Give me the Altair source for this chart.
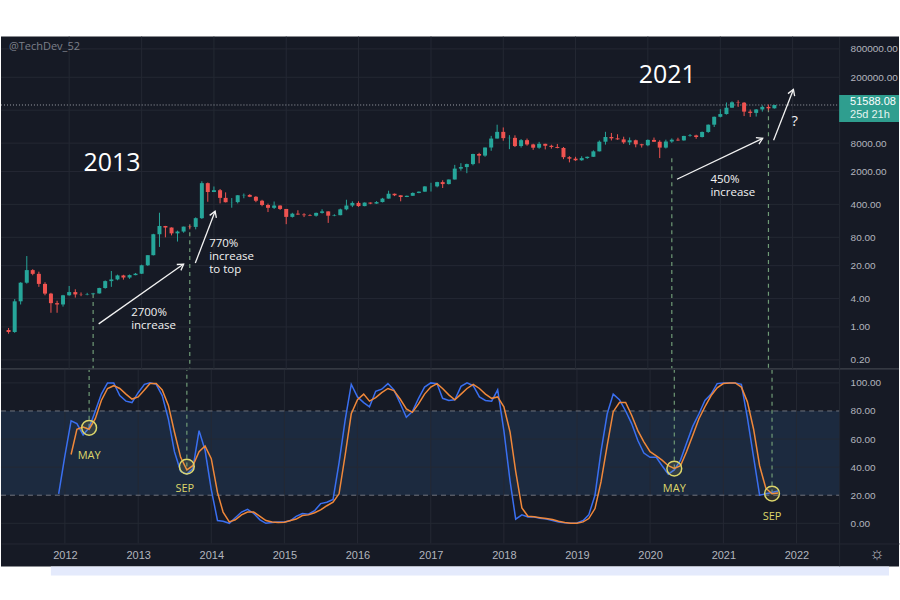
import altair as alt
import pandas as pd

# ---------------- monthly BTCUSD candles, Mar 2011 .. Oct 2021 ----------------
CANDLE_START = "2011-03-01"
opens = [
    0.86, 0.78, 3.5, 8.7, 16.1, 13.4, 8.2, 5.1, 3.2, 3.0,
    4.7, 5.5, 4.9, 4.85, 4.95, 5.15, 6.7, 9.4, 10.2, 12.4, 11.2, 12.6,
    13.5, 20.4, 33.4, 93, 139, 129, 97, 106, 135, 133, 204, 1130,
    732, 800, 550, 445, 447, 625, 635, 580, 478, 388, 338, 378,
    320, 217, 254, 244, 236, 230, 264, 284, 230, 236, 314, 378,
    430, 368, 437, 416, 448, 531, 673, 624, 574, 609, 700, 745,
    963, 965, 1190, 1080, 1350, 2300, 2480, 2870, 4700, 4340, 6450, 10000,
    13860, 10200, 10330, 6930, 9240, 7500, 6390, 7730, 7020, 6630, 6320, 4020,
    3740, 3460, 3850, 4100, 5350, 8570, 10800, 10100, 9600, 8300, 9200, 7550,
    7200, 9350, 8540, 6420, 8650, 9450, 9140, 11350, 11650, 10780, 13800, 19700,
    28990, 33110, 45140, 58800, 57750, 37300, 35040, 41460, 47100, 43800,
]
highs = [
    0.95, 3.9, 8.9, 32, 16.8, 14.9, 8.9, 5.3, 3.6, 4.8,
    7.4, 6.3, 5.4, 5.3, 5.3, 6.8, 9.7, 15.4, 12.9, 12.8, 13.0, 14.0,
    21, 33.5, 95, 266, 140, 130, 111, 135, 142, 212, 1240, 1165,
    960, 850, 720, 545, 630, 680, 660, 600, 500, 415, 460, 382,
    320, 265, 300, 260, 247, 268, 315, 285, 247, 325, 502, 465,
    465, 440, 440, 468, 550, 780, 680, 625, 615, 718, 752, 975,
    1150, 1210, 1300, 1350, 2760, 3000, 2930, 4760, 4980, 6470, 11400, 19666,
    17200, 11800, 11700, 9770, 9990, 7760, 8500, 7760, 7400, 7680, 6620, 4230,
    4100, 4200, 4150, 5620, 9100, 13900, 13150, 12330, 10950, 10540, 9500, 7740,
    9580, 10500, 9190, 9460, 10080, 10400, 11450, 12480, 12070, 14100, 19900, 29300,
    41970, 58350, 61800, 64900, 59600, 41300, 42300, 50500, 52900, 51900,
]
lows = [
    0.72, 0.75, 3.0, 8.3, 12.5, 7.1, 4.7, 2.0, 2.0, 2.7,
    4.6, 4.2, 4.5, 4.7, 4.9, 5.1, 6.5, 7.1, 9.8, 10.1, 10.5, 12.5,
    13.3, 19.7, 33, 50, 80, 88, 65, 100, 118, 118, 196, 455,
    730, 420, 440, 340, 420, 540, 570, 445, 365, 275, 320, 305,
    152, 210, 240, 215, 226, 220, 255, 162, 224, 235, 300, 350,
    355, 365, 404, 412, 440, 530, 600, 465, 570, 605, 690, 740,
    750, 920, 890, 1060, 1350, 2080, 1840, 2700, 2980, 4100, 5500, 10000,
    9000, 5950, 6600, 6430, 7050, 5750, 6070, 5880, 6100, 6200, 3650, 3120,
    3350, 3380, 3700, 4080, 5320, 7440, 9100, 9400, 7700, 7300, 6520, 6440,
    6870, 8450, 3850, 6150, 8110, 8900, 8980, 10970, 9880, 10550, 13220, 17570,
    28130, 32300, 45000, 47000, 30000, 28800, 29300, 37300, 39600, 43300,
]
closes = [
    0.78, 3.5, 8.7, 16.1, 13.4, 8.2, 5.1, 3.2, 3.0, 4.7,
    5.5, 4.9, 4.85, 4.95, 5.15, 6.7, 9.4, 10.2, 12.4, 11.2, 12.6, 13.5,
    20.4, 33.4, 93, 139, 129, 97, 106, 135, 133, 204, 1130, 732,
    800, 550, 445, 447, 625, 635, 580, 478, 388, 338, 378, 320,
    217, 254, 244, 236, 230, 264, 284, 230, 236, 314, 378, 430,
    368, 437, 416, 448, 531, 673, 624, 574, 609, 700, 745, 963,
    965, 1190, 1080, 1350, 2300, 2480, 2870, 4700, 4340, 6450, 10000, 13860,
    10200, 10330, 6930, 9240, 7500, 6390, 7730, 7020, 6630, 6320, 4020, 3740,
    3460, 3850, 4100, 5350, 8570, 10800, 10100, 9600, 8300, 9200, 7550, 7200,
    9350, 8540, 6420, 8650, 9450, 9140, 11350, 11650, 10780, 13800, 19700, 28990,
    33110, 45140, 58800, 57750, 37300, 35040, 41460, 47100, 43800, 51588.08,
]

# ---------------- Stochastic RSI (monthly) ----------------
K_START = "2011-12-01"
stoch_k = [
    21,
    48, 73, 71, 63, 68, 80, 92, 100, 100, 91, 87, 86,
    93, 99, 100, 99, 91, 74, 51, 37, 35, 39, 66, 52,
    24, 2, 1.5, 0, 4, 8, 10, 7, 2.5, 0, 0.5, 1,
    1, 2, 5, 7, 6.5, 9, 14, 15, 17, 43, 74, 99,
    90, 86, 83, 94, 95.5, 99.5, 95, 85.5, 75.5, 79.5, 89, 97,
    100, 99.5, 89, 87.5, 88, 97.5, 100, 98, 90, 87.5, 87, 95,
    66, 30, 3, 6, 4.5, 4.5, 3.5, 3, 2, 1, 0.3, 0,
    0.3, 2, 6, 20, 51, 78, 92, 88, 80, 71, 59, 50,
    47, 47, 41, 35, 38, 45, 57, 69, 78, 87.5, 92, 99.5,
    100, 100, 100, 99, 75, 47, 20, 21, 22, 23,
]
D_START = "2012-02-01"
stoch_d = [
    49, 67, 68.5, 67, 74.5, 87.5, 96, 98, 96, 92, 88.5,
    90, 95, 99.5, 99.5, 95, 84, 65, 47, 38, 41, 51, 55,
    46, 22, 8, 1, 2.5, 6, 8, 8, 5, 2, 1, 0.6,
    0.8, 2, 3, 5.5, 6, 7.5, 9.5, 12.5, 15, 21, 49, 78,
    88, 92, 87, 89.5, 93, 96, 94.5, 88.5, 81.5, 79, 85, 92,
    97, 99.5, 96, 91.5, 88, 92, 96, 99, 96, 92, 89, 90,
    83, 65, 37, 11, 5, 4.6, 4, 3.4, 2.7, 1.5, 0.6, 0,
    0, 1, 3.4, 10.5, 29.5, 55.5, 79.5, 86, 86, 77, 66, 58,
    51, 48, 45, 41, 39, 41, 51, 62.5, 74.5, 83, 91, 96.5,
    99.5, 100, 100, 97, 86.5, 67, 41, 25, 21, 21.5,
]

# ---------------- axis / annotation values ----------------
price_ticks = [0.2, 1, 4, 20, 80, 400, 2000, 8000, 200000, 800000]
price_grid = [0.2, 1, 4, 20, 80, 400, 2000, 8000, 40000, 200000, 800000]
stoch_ticks = [0, 20, 40, 60, 80, 100]
stoch_grid = [0, 40, 60, 100]
stoch_bands = [20, 80]
years = list(range(2012, 2023))
last_price = 51588.08
countdown = "25d 21h"
watermark = "@TechDev_52"

sig_dates = ["2012-05-01", "2013-09-01", "2020-05-01", "2021-09-01"]
sig_price_top = [5.0, 152, 3800, 44000]
sig_stoch = [68, 40.4, 39, 21.2]
sig_labels = ["MAY", "SEP", "MAY", "SEP"]
sig_label_dates = ["2012-05-01", "2013-08-22", "2020-05-01", "2021-09-01"]
sig_label_vals = [48, 24.7, 24.7, 4.8]

arrow_from_date = ["2012-05-29", "2013-09-29", "2020-05-27", "2021-09-27"]
arrow_from_price = [1.16, 22.7, 1367, 9160]
arrow_to_date = ["2013-08-01", "2014-01-07", "2021-08-03", "2022-01-05"]
arrow_to_price = [21.6, 287, 10100, 110300]

note_texts = ["2700%\nincrease", "770%\nincrease\nto top", "450%\nincrease"]
note_dates = ["2012-11-09", "2013-12-08", "2020-11-12"]
note_prices = [2.65, 76.9, 1745]
year_texts = ["2013", "2021"]
year_text_dates = ["2012-08-04", "2020-04-08"]
year_text_prices = [2985, 228000]
question_date = "2022-01-12"
question_price = 23200

# ---------------- styling ----------------
BG = "#161a25"
GRID = "#242833"
AXIS_TXT = "#b2b5be"
UP = "#26a69a"
DOWN = "#ef5350"
BLUE = "#3a6ff0"
ORANGE = "#f0883a"
YELLOW = "#dcd66a"
SIG_LINE = "#6f9a76"
BAND = "#1c2a3f"
FONT_AX = "Liberation Sans"
FONT_TXT = "Open Sans"

# ---------------- tables ----------------
candle_dates = pd.date_range(CANDLE_START, periods=len(opens), freq="MS").strftime("%Y-%m-%d")
candles = pd.DataFrame({"date": candle_dates, "open": opens, "high": highs,
                        "low": lows, "close": closes})
candles["dir"] = ["up" if c >= o else "down" for o, c in zip(opens, closes)]

k_df = pd.DataFrame({"date": pd.date_range(K_START, periods=len(stoch_k), freq="MS").strftime("%Y-%m-%d"),
                     "k": stoch_k})
d_df = pd.DataFrame({"date": pd.date_range(D_START, periods=len(stoch_d), freq="MS").strftime("%Y-%m-%d"),
                     "d": stoch_d})
year_df = pd.DataFrame({"d": [f"{y}-01-01" for y in years]})
pgrid_df = pd.DataFrame({"v": price_grid})
sgrid_df = pd.DataFrame({"v": stoch_grid})
sband_df = pd.DataFrame({"v": stoch_bands})
band_df = pd.DataFrame({"top": [max(stoch_bands)], "bot": [min(stoch_bands)]})
last_df = pd.DataFrame({"p": [last_price], "t1": [f"{last_price:.2f}"], "t2": [countdown]})
sig_df = pd.DataFrame({"d": sig_dates, "ptop": sig_price_top, "sv": sig_stoch})
sig_lab_df = pd.DataFrame({"d": sig_label_dates, "v": sig_label_vals, "t": sig_labels})
arrow_df = pd.DataFrame({"d1": arrow_from_date, "p1": arrow_from_price,
                         "d2": arrow_to_date, "p2": arrow_to_price})
note_df = pd.DataFrame({"d": note_dates, "p": note_prices, "t": note_texts})
yt_df = pd.DataFrame({"d": year_text_dates, "p": year_text_prices, "t": year_texts})
q_df = pd.DataFrame({"d": [question_date], "p": [question_price], "t": ["?"]})
wm_df = pd.DataFrame({"t": [watermark]})
one_df = pd.DataFrame({"t": ["\u263c"]})

# ---------------- scales / axes ----------------
X_SCALE = alt.Scale(type="utc", domain=[alt.DateTime(year=2011, month=2, date=16, utc=True),
                                        alt.DateTime(year=2023, month=5, date=28, utc=True)])
PRICE_SCALE = alt.Scale(type="log", domain=[0.1289, 1.462e6], nice=False)
STOCH_SCALE = alt.Scale(domain=[-30.7, 110], nice=False, zero=False)

price_axis = alt.Axis(orient="right", offset=-60, values=price_ticks, format=".2f",
                      labelColor=AXIS_TXT, labelFont=FONT_AX, labelFontSize=10,
                      labelPadding=11, ticks=False, grid=False, domainColor=GRID,
                      labelOverlap=False, title=None)
stoch_axis = alt.Axis(orient="right", offset=-60, values=stoch_ticks, format=".2f",
                      labelColor=AXIS_TXT, labelFont=FONT_AX, labelFontSize=10,
                      labelPadding=11, ticks=False, grid=False, domainColor=GRID,
                      labelOverlap=False, title=None)
time_axis = alt.Axis(orient="bottom", offset=-23,
                     values=[alt.DateTime(year=y, month=1, date=1, utc=True) for y in years],
                     format="%Y", labelColor=AXIS_TXT, labelFont=FONT_AX, labelFontSize=11,
                     labelPadding=6, ticks=False, grid=False, domainColor=GRID,
                     labelOverlap=False, title=None)


def PX(f):
    return alt.X(f"{f}:T", scale=X_SCALE, axis=None)


def PY(f):
    return alt.Y(f"{f}:Q", scale=PRICE_SCALE, axis=price_axis)


def SX(f):
    return alt.X(f"{f}:T", scale=X_SCALE, axis=time_axis)


def SY(f):
    return alt.Y(f"{f}:Q", scale=STOCH_SCALE, axis=stoch_axis)


candle_color = alt.Color("dir:N", scale=alt.Scale(domain=["up", "down"], range=[UP, DOWN]), legend=None)

# ---------------- price panel ----------------
p_hgrid = alt.Chart(pgrid_df).mark_rule(color=GRID, strokeWidth=1).encode(
    y=PY("v"), x=alt.value(0), x2=alt.value(840))
p_vgrid = alt.Chart(year_df).mark_rule(color=GRID, strokeWidth=1).encode(x=PX("d"))
p_last = alt.Chart(last_df).mark_rule(color="#a0a3ab", strokeDash=[1, 2], strokeWidth=1).encode(
    y=PY("p"), x=alt.value(0), x2=alt.value(840))
p_sig = alt.Chart(sig_df).mark_rule(color=SIG_LINE, strokeDash=[4, 4], strokeWidth=1.2).encode(
    x=PX("d"), y=PY("ptop"), y2=alt.value(333))
p_wick = alt.Chart(candles).mark_rule(strokeWidth=1).encode(
    x=PX("date"), y=PY("low"), y2="high", color=candle_color)
p_body = alt.Chart(candles).mark_bar(size=4).encode(
    x=PX("date"), y=PY("open"), y2="close", color=candle_color)
p_arrow = alt.Chart(arrow_df).mark_rule(color="#f2f2f2", strokeWidth=1.3).encode(
    x=PX("d1"), y=PY("p1"), x2="d2", y2="p2")
heads = []
for i, ang in enumerate([55, 21, 65, 21]):
    heads.append(alt.Chart(arrow_df.iloc[[i]]).mark_point(
        shape="M-0.55,0.9L0,0L0.55,0.9", size=170, filled=False, stroke="#f2f2f2",
        strokeWidth=1.3, opacity=1, angle=ang).encode(x=PX("d2"), y=PY("p2")))
p_notes = alt.Chart(note_df).mark_text(
    align="left", baseline="top", lineBreak="\n", lineHeight=13, fontSize=11.5,
    font=FONT_TXT, color="#f2f2f2").encode(x=PX("d"), y=PY("p"), text="t:N")
p_years = alt.Chart(yt_df).mark_text(
    align="center", baseline="middle", fontSize=25, font=FONT_TXT, color="#ffffff").encode(
    x=PX("d"), y=PY("p"), text="t:N")
p_q = alt.Chart(q_df).mark_text(
    align="center", baseline="middle", fontSize=15, font=FONT_TXT, color="#f2f2f2").encode(
    x=PX("d"), y=PY("p"), text="t:N")
p_wm = alt.Chart(wm_df).mark_text(
    align="left", baseline="middle", fontSize=11, font=FONT_TXT, color="#7d808a").encode(
    x=alt.value(8), y=alt.value(10), text="t:N")
p_tag = alt.Chart(last_df).mark_point(
    shape="M-1,-0.45L1,-0.45L1,0.45L-1,0.45Z", size=3600, filled=True, fill="#2f9e8f",
    opacity=1, strokeWidth=0, yOffset=3.5).encode(x=alt.value(870), y=PY("p"))
p_tag1 = alt.Chart(last_df).mark_text(
    align="left", baseline="middle", fontSize=11, font=FONT_AX, color="#ffffff", dy=-3).encode(
    x=alt.value(851), y=PY("p"), text="t1:N")
p_tag2 = alt.Chart(last_df).mark_text(
    align="left", baseline="middle", fontSize=11, font=FONT_AX, color="#e6f4f1", dy=10).encode(
    x=alt.value(851), y=PY("p"), text="t2:N")

price_panel = alt.layer(
    p_hgrid, p_vgrid, p_last, p_sig, p_wick, p_body, p_arrow, *heads,
    p_notes, p_years, p_q, p_wm, p_tag, p_tag1, p_tag2
).properties(width=900, height=333)

# ---------------- stochastic RSI panel ----------------
s_band = alt.Chart(band_df).mark_rect(color=BAND).encode(
    y=SY("top"), y2="bot", x=alt.value(0), x2=alt.value(840))
s_hgrid = alt.Chart(sgrid_df).mark_rule(color=GRID, strokeWidth=1).encode(
    y=SY("v"), x=alt.value(0), x2=alt.value(840))
s_vgrid = alt.Chart(year_df).mark_rule(color=GRID, strokeWidth=1).encode(
    x=SX("d"), y=alt.value(0), y2=alt.value(175))
s_bands = alt.Chart(sband_df).mark_rule(color="#70737d", strokeDash=[5, 4], strokeWidth=1).encode(
    y=SY("v"), x=alt.value(0), x2=alt.value(840))
s_sig = alt.Chart(sig_df).mark_rule(color=SIG_LINE, strokeDash=[4, 4], strokeWidth=1.2).encode(
    x=SX("d"), y=SY("sv"), y2=alt.value(0))
s_k = alt.Chart(k_df).mark_line(color=BLUE, strokeWidth=1.5).encode(x=SX("date"), y=SY("k"))
s_d = alt.Chart(d_df).mark_line(color=ORANGE, strokeWidth=1.5).encode(x=SX("date"), y=SY("d"))
s_circ = alt.Chart(sig_df).mark_point(
    shape="circle", size=220, filled=True, fill=YELLOW, fillOpacity=0.12, stroke=YELLOW,
    strokeWidth=1.5, opacity=1).encode(x=SX("d"), y=SY("sv"))
s_lab = alt.Chart(sig_lab_df).mark_text(
    align="center", baseline="middle", fontSize=11, font=FONT_TXT, color=YELLOW).encode(
    x=SX("d"), y=SY("v"), text="t:N")
s_sep = alt.Chart(one_df).mark_rule(color="#2a2e39", strokeWidth=1.5).encode(
    y=alt.value(0.5), x=alt.value(0), x2=alt.value(900))
s_gear = alt.Chart(one_df).mark_text(
    align="center", baseline="middle", fontSize=17, color=AXIS_TXT).encode(
    x=alt.value(878), y=alt.value(186), text="t:N")
# faint strip of the next screenshot peeking out under the chart
s_strip = alt.Chart(one_df).mark_rect(color="#e4eafc").encode(
    x=alt.value(50), x2=alt.value(890), y=alt.value(198), y2=alt.value(207))

stoch_panel = alt.layer(
    s_band, s_hgrid, s_vgrid, s_bands, s_sig, s_k, s_d, s_circ, s_lab, s_sep, s_gear, s_strip
).properties(width=900, height=198)

chart = alt.vconcat(price_panel, stoch_panel, spacing=0, bounds="flush").configure(
    background="white",
    padding={"top": 35, "bottom": 23, "left": 0, "right": 0},
).configure_view(fill=BG, stroke=None).configure_concat(spacing=0)

chart.save("out.html", embed_options={"renderer": "svg", "actions": False})
